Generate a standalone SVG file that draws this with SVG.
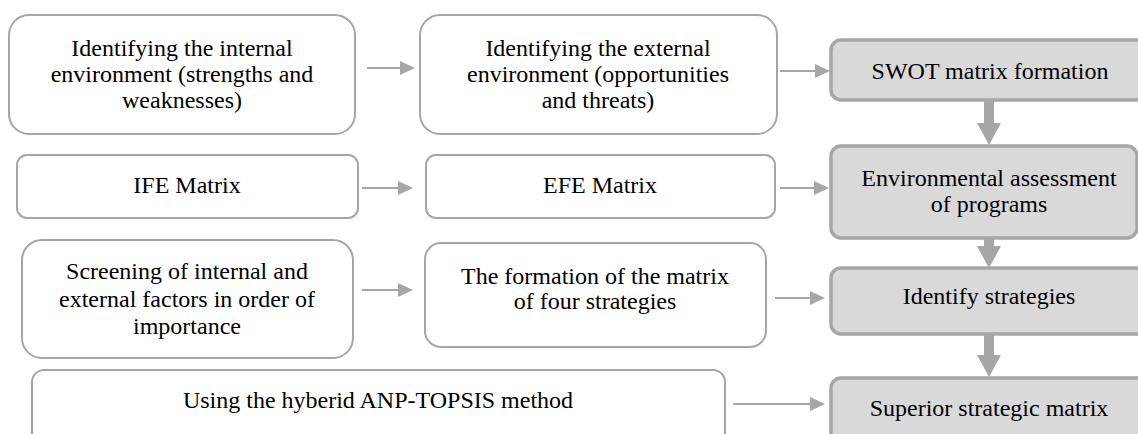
<svg xmlns="http://www.w3.org/2000/svg" width="1138" height="434" viewBox="0 0 1138 434">
<defs>
<style>
.box{fill:#ffffff;stroke:#a6a6a6;stroke-width:2}
.gbox{fill:#d9d9d9;stroke:#a6a6a6;stroke-width:3.5}
.t{font-family:'Liberation Serif','Times New Roman','DejaVu Serif',serif;font-size:24px;fill:#000;text-anchor:middle}
.thin{stroke:#a6a6a6;stroke-width:2;fill:none;marker-end:url(#ah)}
.thick{stroke:#a6a6a6;stroke-width:10;fill:none;marker-end:url(#ahb)}
</style>
<marker id="ah" markerUnits="userSpaceOnUse" markerWidth="15" markerHeight="14" refX="0" refY="7" orient="auto">
<path d="M0,0 L15,7 L0,14 Z" fill="#a6a6a6"/>
</marker>
<marker id="ahb" markerUnits="userSpaceOnUse" markerWidth="22" markerHeight="24" refX="0" refY="12" orient="auto">
<path d="M0,0 L22,12 L0,24 Z" fill="#a6a6a6"/>
</marker>
</defs>
<rect width="1138" height="434" fill="#ffffff"/>

<g id="connectors">
<line class="thin" x1="367" y1="68" x2="400" y2="68"/>
<line class="thin" x1="780" y1="71" x2="815" y2="71"/>
<line class="thin" x1="362" y1="188" x2="398" y2="188"/>
<line class="thin" x1="780" y1="188" x2="814" y2="188"/>
<line class="thin" x1="362" y1="290" x2="398" y2="290"/>
<line class="thin" x1="775" y1="298" x2="810" y2="298"/>
<line class="thin" x1="733" y1="404" x2="810" y2="404"/>
<line class="thick" x1="989" y1="101" x2="989" y2="123"/>
<line class="thick" x1="989" y1="238" x2="989" y2="246"/>
<line class="thick" x1="989" y1="334" x2="989" y2="355"/>
</g>

<g id="n-internal">
<rect class="box" x="9" y="15" width="346" height="119" rx="20"/>
<text class="t" x="182" y="56">Identifying the internal</text>
<text class="t" x="182" y="82">environment (strengths and</text>
<text class="t" x="182" y="108">weaknesses)</text>
</g>
<g id="n-external">
<rect class="box" x="420" y="15" width="357" height="119" rx="20"/>
<text class="t" x="598" y="56">Identifying the external</text>
<text class="t" x="598" y="82">environment (opportunities</text>
<text class="t" x="598" y="108">and threats)</text>
</g>
<g id="n-swot">
<rect class="gbox" x="831" y="40" width="320" height="60" rx="10"/>
<text class="t" x="990" y="79">SWOT matrix formation</text>
</g>

<g id="n-ife">
<rect class="box" x="17" y="155" width="341" height="63" rx="10"/>
<text class="t" x="187" y="193">IFE Matrix</text>
</g>
<g id="n-efe">
<rect class="box" x="426" y="155" width="349" height="63" rx="10"/>
<text class="t" x="600" y="193">EFE Matrix</text>
</g>
<g id="n-env">
<rect class="gbox" x="831" y="146" width="306" height="92" rx="10"/>
<text class="t" x="989" y="186">Environmental assessment</text>
<text class="t" x="989" y="212">of programs</text>
</g>

<g id="n-screening">
<rect class="box" x="22" y="240" width="331" height="118" rx="20"/>
<text class="t" x="187" y="279">Screening of internal and</text>
<text class="t" x="187" y="307">external factors in order of</text>
<text class="t" x="187" y="334">importance</text>
</g>
<g id="n-four">
<rect class="box" x="425" y="243" width="341" height="104" rx="16"/>
<text class="t" x="595" y="284">The formation of the matrix</text>
<text class="t" x="595" y="309">of four strategies</text>
</g>
<g id="n-identify">
<rect class="gbox" x="831" y="268" width="320" height="66" rx="10"/>
<text class="t" x="989" y="304">Identify strategies</text>
</g>

<g id="n-anp">
<rect class="box" x="32" y="370" width="693" height="80" rx="12"/>
<text class="t" x="378" y="408">Using the hyberid ANP-TOPSIS method</text>
</g>
<g id="n-superior">
<rect class="gbox" x="831" y="378" width="320" height="70" rx="10"/>
<text class="t" x="989" y="416">Superior strategic matrix</text>
</g>
</svg>
